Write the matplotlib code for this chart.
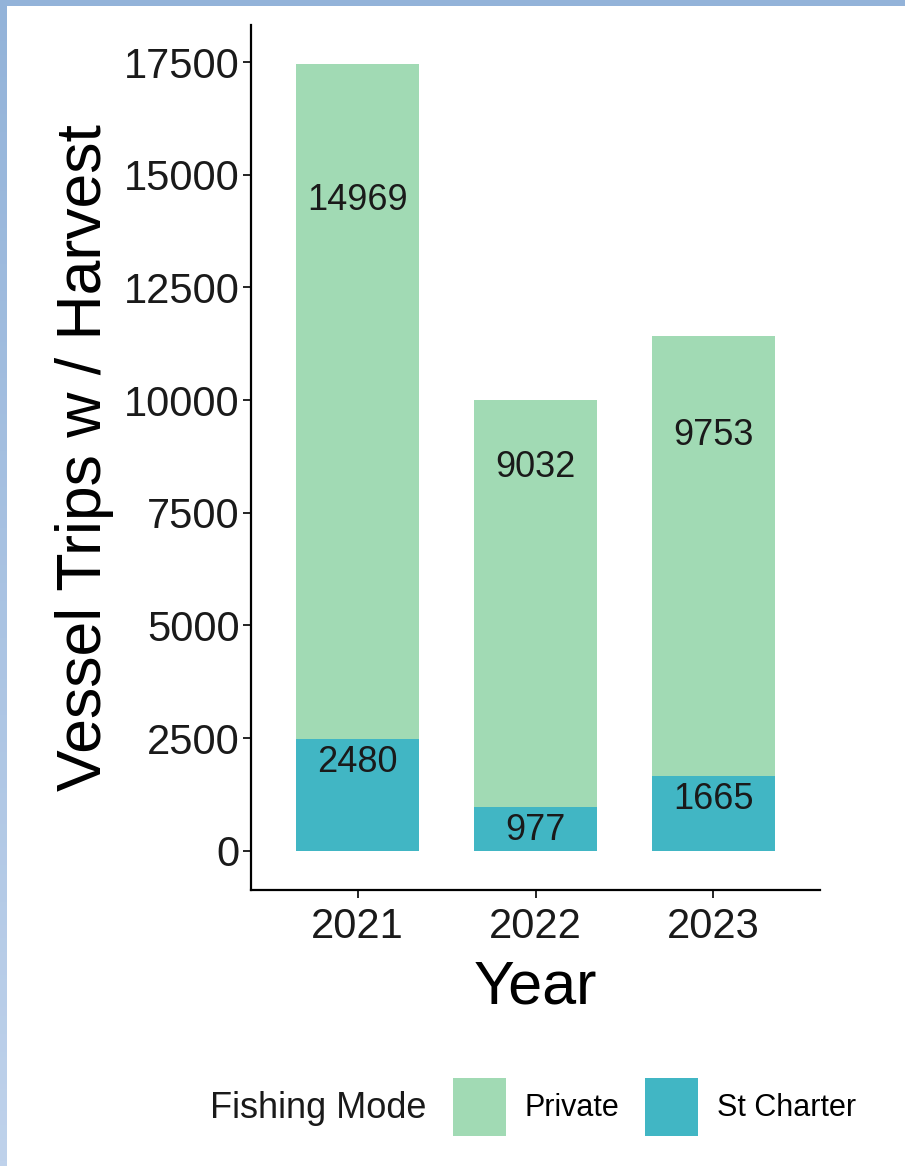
import matplotlib
matplotlib.use("Agg")
import matplotlib.pyplot as plt
import numpy as np

years = ["2021", "2022", "2023"]
private = [14969, 9032, 9753]
charter = [2480, 977, 1665]
modes = ["Private", "St Charter"]
colors = ["#A1DAB4", "#41B6C4"]
yticks = [0, 2500, 5000, 7500, 10000, 12500, 15000, 17500]

plt.rcParams['font.family'] = ['Liberation Sans', 'DejaVu Sans']

W, H = 905, 1166
fig = plt.figure(figsize=(W / 100, H / 100), dpi=100)
fig.patch.set_facecolor("white")

# frame strips (top and left)
grad = np.linspace(0, 1, 256).reshape(-1, 1)
axl = fig.add_axes([0, 0, 6 / W, 1])
axl.imshow(grad, aspect="auto", cmap=matplotlib.colors.LinearSegmentedColormap.from_list("b", ["#93B3D9", "#BFD2EB"]))
axl.axis("off")
axt = fig.add_axes([0, 1 - 6 / H, 1, 6 / H])
axt.set_facecolor("#93B3D9")
axt.set_xticks([]); axt.set_yticks([])
for s in axt.spines.values():
    s.set_visible(False)

left, right, top, bottom = 251, 820, 25, 890
ax = fig.add_axes([left / W, 1 - bottom / H, (right - left) / W, (bottom - top) / H])

x = np.arange(1, len(years) + 1)
b1 = ax.bar(x, charter, width=0.69, color=colors[1], label=modes[1])
b0 = ax.bar(x, private, width=0.69, bottom=charter, color=colors[0], label=modes[0])

for xi, v in zip(x, private):
    ax.annotate(str(v), (xi, v), xytext=(0, -24), textcoords="offset pixels",
                ha="center", va="center", fontsize=26, color="#1a1a1a")
for xi, v in zip(x, charter):
    ax.annotate(str(v), (xi, v), xytext=(0, -24), textcoords="offset pixels",
                ha="center", va="center", fontsize=26, color="#1a1a1a")

totals = [p + c for p, c in zip(private, charter)]
ymax = max(totals)
ax.set_ylim(-0.05 * ymax, 1.05 * ymax)
ax.set_xlim(0.4, len(years) + 0.6)
ax.set_yticks(yticks)
ax.set_yticklabels([str(t) for t in yticks])
ax.set_xticks(x)
ax.set_xticklabels(years)

for s in ["top", "right"]:
    ax.spines[s].set_visible(False)
for s in ["left", "bottom"]:
    ax.spines[s].set_linewidth(1.6)
ax.tick_params(axis="both", direction="out", length=6, width=1.2, labelsize=30,
               colors="black", labelcolor="#1a1a1a", pad=2)
ax.tick_params(axis="x", pad=6)

ax.set_ylabel("Vessel Trips w / Harvest", fontsize=45, color="black")
ax.set_xlabel("Year", fontsize=44, color="black")
ax.yaxis.set_label_coords(-0.293, 0.5)
ax.xaxis.set_label_coords(0.5, -0.113)
ax.yaxis.label.set_va("center")
ax.xaxis.label.set_va("center")

fig.text(210 / W, 1 - 1108 / H, "Fishing Mode", fontsize=26, ha="left", va="center", color="#1a1a1a")
fig.legend(handles=[b0, b1], labels=modes, ncol=2, frameon=False, fontsize=22,
           handlelength=1.72, handleheight=2.55, handletextpad=0.62, columnspacing=0.85,
           borderpad=0, borderaxespad=0, loc="center left",
           bbox_to_anchor=(453 / W, 1 - 1107 / H))

fig.savefig("out.png", dpi=100, facecolor="white")
